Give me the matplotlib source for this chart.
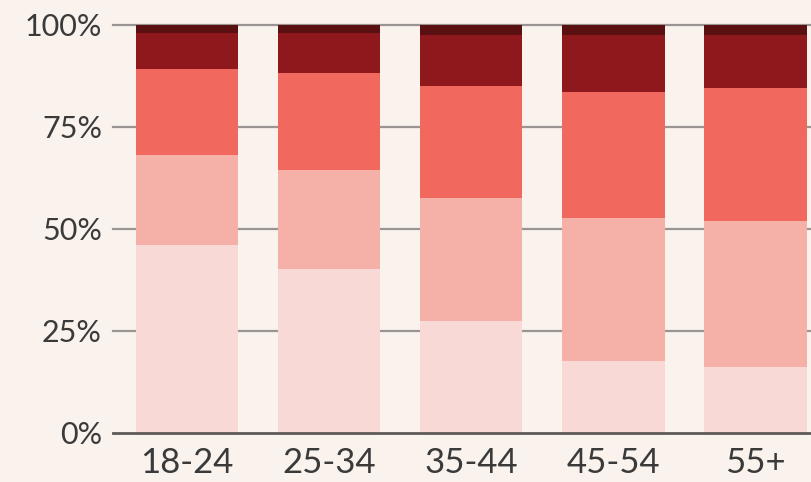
import matplotlib.pyplot as plt
import numpy as np

# age groups and share of each answer (percent), bottom segment first
AGE_GROUPS = ["18-24", "25-34", "35-44", "45-54", "55+"]
SEG_1 = [46.2, 40.1, 27.5, 17.6, 16.1]
SEG_2 = [21.9, 24.4, 30.0, 35.0, 35.9]
SEG_3 = [21.0, 23.7, 27.5, 30.9, 32.5]
SEG_4 = [8.9, 9.8, 12.5, 14.0, 13.0]
SEG_5 = [2.0, 2.0, 2.5, 2.5, 2.5]
Y_TICKS = [0, 25, 50, 75, 100]
Y_LABELS = ["0%", "25%", "50%", "75%", "100%"]

COLORS = ["#f9d9d6", "#f5b0a8", "#f1685f", "#8e181b", "#5a0f10"]
BG = "#faf2ec"

plt.rcParams["font.family"] = ["Lato", "DejaVu Sans"]

fig = plt.figure(figsize=(8.11, 4.82), dpi=100, facecolor=BG)
ax = fig.add_axes([113 / 811, 1 - 433 / 482, 1 - 113 / 811, 408 / 482])
ax.set_facecolor(BG)

x = np.arange(len(AGE_GROUPS))
bottom = np.zeros(len(AGE_GROUPS))
for seg, col in zip([SEG_1, SEG_2, SEG_3, SEG_4, SEG_5], COLORS):
    ax.bar(x, seg, bottom=bottom, width=0.72, color=col, zorder=2)
    bottom += np.array(seg)

# gridlines behind the bars
for t in Y_TICKS[1:]:
    ax.axhline(t, color="#9a9592", lw=1.6, zorder=1, clip_on=False)
ax.axhline(0, color="#5e5a58", lw=2, zorder=3, clip_on=False)

ax.set_xlim(-0.52, 4.39)
ax.set_ylim(0, 100)
ax.set_yticks(Y_TICKS)
ax.set_yticklabels(Y_LABELS, fontsize=22, color="#3a3a3a")
ax.set_xticks(x)
ax.set_xticklabels(AGE_GROUPS, fontsize=25, color="#3a3a3a")
ax.tick_params(axis="y", length=0, pad=8)
ax.tick_params(axis="x", length=0, pad=10)
for s in ax.spines.values():
    s.set_visible(False)

plt.savefig("out.png", dpi=100, facecolor=BG)
plt.close()
